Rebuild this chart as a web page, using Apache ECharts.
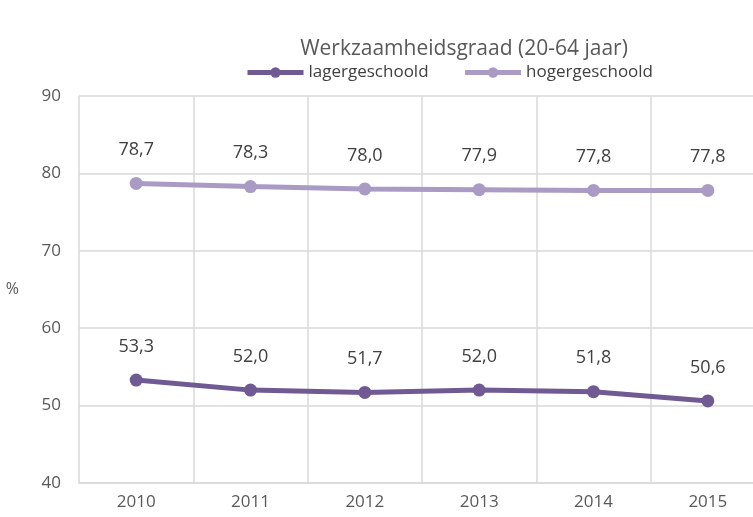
<!DOCTYPE html>
<html>
<head>
<meta charset="utf-8">
<script src="https://cdn.jsdelivr.net/npm/echarts@6/dist/echarts.min.js"></script>
<style>
html, body { margin: 0; padding: 0; background: #fff; }
#chart { width: 753px; height: 517px; }
</style>
</head>
<body>
<div id="chart"></div>
<script>
var years = ['2010', '2011', '2012', '2013', '2014', '2015']
var lager = [53.3, 52.0, 51.7, 52.0, 51.8, 50.6]
var hoger = [78.7, 78.3, 78.0, 77.9, 77.8, 77.8]

var font = 'Open Sans'
var fmt = function (p) { return p.value.toFixed(1).replace('.', ',') }

function lineSeries(name, data, color) {
    return {
        name: name,
        type: 'line',
        data: data,
        symbol: 'circle',
        symbolSize: 13,
        lineStyle: { width: 5, color: color },
        itemStyle: { color: color },
        label: {
            show: true,
            position: 'top',
            distance: 18,
            formatter: fmt,
            color: '#404040',
            fontFamily: font,
            fontSize: 18
        }
    }
}

var chart = echarts.init(document.getElementById('chart'))
chart.setOption({
    animation: false,
    title: {
        text: 'Werkzaamheidsgraad (20-64 jaar)',
        left: 459,
        textAlign: 'center',
        top: 34,
        textStyle: { color: '#595959', fontFamily: font, fontSize: 21, fontWeight: 'normal' }
    },
    legend: {
        top: 59,
        left: 240,
        itemGap: 34,
        itemWidth: 56,
        itemHeight: 13,
        lineStyle: { width: 5 },
        textStyle: { color: '#404040', fontFamily: font, fontSize: 17 },
        data: ['lagergeschoold', 'hogergeschoold']
    },
    grid: { left: 79, right: -12, top: 96, bottom: 34, outerBoundsMode: 'none' },
    xAxis: {
        type: 'category',
        data: years,
        boundaryGap: true,
        axisLine: { lineStyle: { color: '#d9d9d9', width: 1.5 } },
        axisTick: { show: false },
        splitLine: { show: true, lineStyle: { color: '#d9d9d9', width: 1.5 } },
        axisLabel: { color: '#595959', fontFamily: font, fontSize: 17, margin: 11 }
    },
    yAxis: {
        type: 'value',
        min: 40,
        max: 90,
        interval: 10,
        name: '%',
        nameLocation: 'middle',
        nameRotate: 0,
        nameGap: 60,
        nameTextStyle: { color: '#595959', fontFamily: font, fontSize: 16 },
        axisLine: { show: false },
        axisTick: { show: false },
        splitLine: { lineStyle: { color: '#d9d9d9', width: 1.5 } },
        axisLabel: { color: '#595959', fontFamily: font, fontSize: 17, margin: 18 }
    },
    series: [
        lineSeries('lagergeschoold', lager, '#705a93'),
        lineSeries('hogergeschoold', hoger, '#a99bc4')
    ]
})
</script>
</body>
</html>
